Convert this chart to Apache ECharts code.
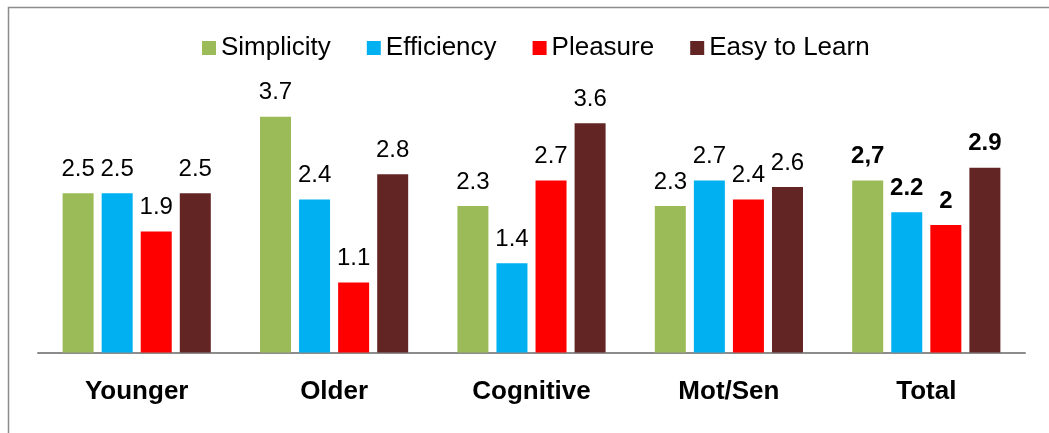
<!DOCTYPE html>
<html>
<head>
<meta charset="utf-8">
<script src="https://cdn.jsdelivr.net/npm/echarts@6/dist/echarts.min.js"></script>
<style>
html,body{margin:0;padding:0;background:#fff;}
#c{width:1049px;height:433px;}
</style>
</head>
<body>
<div id="c"></div>
<script>
var categories = ['Younger', 'Older', 'Cognitive', 'Mot/Sen', 'Total'];
var seriesNames = ['Simplicity', 'Efficiency', 'Pleasure', 'Easy to Learn'];
var simplicity = [2.5, 3.7, 2.3, 2.3, 2.7];
var efficiency = [2.5, 2.4, 1.4, 2.7, 2.2];
var pleasure = [1.9, 1.1, 2.7, 2.4, 2.0];
var easyToLearn = [2.5, 2.8, 3.6, 2.6, 2.9];
var totalLabels = ['2,7', '2.2', '2', '2.9'];
var colors = ['#9BBB59', '#00B0F0', '#FF0000', '#632523'];

var FONT = '"Liberation Sans", Arial, sans-serif';
var allData = [simplicity, efficiency, pleasure, easyToLearn];

var chart = echarts.init(document.getElementById('c'), null, {renderer: 'canvas'});

var series = allData.map(function (d, si) {
  return {
    name: seriesNames[si],
    type: 'bar',
    data: d,
    barWidth: 31,
    barGap: '26%',
    itemStyle: {color: colors[si]},
    label: {
      show: true,
      position: 'top',
      distance: 12,
      fontFamily: FONT,
      fontSize: 24,
      color: '#000',
      formatter: function (p) {
        if (categories[p.dataIndex] === 'Total') {
          return '{b|' + totalLabels[si] + '}';
        }
        return '{n|' + String(p.value) + '}';
      },
      rich: {
        n: {fontFamily: FONT, fontSize: 24, color: '#000'},
        b: {fontFamily: FONT, fontSize: 24, fontWeight: 'bold', color: '#000'}
      }
    }
  };
});

chart.setOption({
  animation: false,
  backgroundColor: '#fff',
  color: colors,
  graphic: [{
    type: 'rect',
    shape: {x: 8.5, y: 7.5, width: 1200, height: 600},
    style: {fill: 'none', stroke: '#8c8c8c', lineWidth: 1.5},
    silent: true,
    z: 100
  }],
  legend: {
    left: 197,
    top: 30,
    itemWidth: 14,
    itemHeight: 14,
    itemGap: 36,
    icon: 'rect',
    textStyle: {fontFamily: FONT, fontSize: 26, color: '#000'},
    data: seriesNames
  },
  grid: {left: 38, right: 24, top: 34, bottom: 80.5, containLabel: false},
  xAxis: {
    type: 'category',
    data: categories,
    axisLine: {show: true, lineStyle: {color: '#8c8c8c', width: 2}},
    axisTick: {show: false},
    axisLabel: {
      margin: 26,
      fontFamily: FONT,
      fontSize: 26,
      fontWeight: 'bold',
      color: '#000'
    }
  },
  yAxis: {
    type: 'value',
    min: 0,
    max: 5,
    show: false,
    splitLine: {show: false}
  },
  series: series
});
</script>
</body>
</html>
